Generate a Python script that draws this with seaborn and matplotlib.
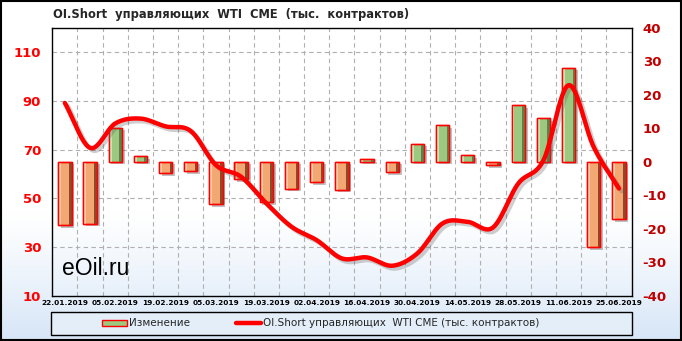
import numpy as np
import pandas as pd
import matplotlib
matplotlib.use("Agg")
import matplotlib.pyplot as plt
import matplotlib.patheffects as pe
from matplotlib.patches import Rectangle
from matplotlib.lines import Line2D
import seaborn as sns

dates = ['22.01.2019', '29.01.2019', '05.02.2019', '12.02.2019', '19.02.2019', '26.02.2019',
         '05.03.2019', '12.03.2019', '19.03.2019', '26.03.2019', '02.04.2019', '09.04.2019',
         '16.04.2019', '23.04.2019', '30.04.2019', '07.05.2019', '14.05.2019', '21.05.2019',
         '28.05.2019', '04.06.2019', '11.06.2019', '18.06.2019', '25.06.2019']
oi_short = [89.1, 70.7, 80.7, 82.7, 79.5, 77.6, 63.6, 58.8, 47.9, 38.3, 32.8, 25.3,
            25.7, 22.3, 27.4, 39.7, 40.3, 38.0, 56.0, 65.5, 96.4, 71.0, 54.0]
change = [-19.0, -18.5, 10.2, 1.6, -3.3, -2.8, -12.7, -5.3, -12.0, -8.0, -6.0, -8.3,
          0.8, -3.2, 5.4, 10.9, 1.9, -1.0, 16.9, 12.9, 28.1, -25.4, -17.2]
left_ticks = [10, 30, 50, 70, 90, 110]
right_ticks = [-40, -30, -20, -10, 0, 10, 20, 30, 40]
title = "OI.Short  управляющих  WTI  CME  (тыс.  контрактов)"
bar_label = "Изменение"
line_label = "OI.Short управляющих  WTI CME (тыс. контрактов)"

sns.set_theme(style="white")
plt.rcParams['font.family'] = ['DejaVu Sans']

W, H = 682, 341
fig = plt.figure(figsize=(W / 100, H / 100), dpi=100)

# background gradient
bg = fig.add_axes([0, 0, 1, 1], zorder=-10)
t = np.linspace(0, 1, 256)
g = np.clip((t - 0.62) / 0.38, 0, 1) ** 1.2
top = np.array([1.0, 1.0, 1.0])
bot = np.array([0.84, 0.90, 0.97])
grad = top[None, :] * (1 - g[:, None]) + bot[None, :] * g[:, None]
bg.imshow(grad[:, None, :], aspect='auto', extent=[0, 1, 0, 1], origin='upper')
bg.set_axis_off()

l, r = 52.3 / W, 631.5 / W
b, tp = (H - 295.7) / H, (H - 27.7) / H
ax2 = fig.add_axes([l, b, r - l, tp - b])  # bars, right scale
ax2.patch.set_visible(False)
ax = ax2.twinx()  # line, left scale (drawn on top)

df = pd.DataFrame({"date": dates, "change": change})
sns.barplot(data=df, x="date", y="change", ax=ax2, width=0.53, color="#F4B183", saturation=1,
            edgecolor="#FF0000", linewidth=1.0, zorder=3)
n = len(dates)
ax2.set_xlim(-0.5, n - 0.5)
ax2.set_ylim(-40, 40)
for p, v in zip(list(ax2.patches), change):
    pos = v >= 0
    p.set_facecolor("#9CC97F" if pos else "#F3A874")
    p.set_alpha(1)
    p.set_path_effects([pe.SimplePatchShadow(offset=(2, -2), shadow_rgbFace="#303030", alpha=0.3),
                        pe.Normal()])
    x0, w = p.get_x(), p.get_width()
    y0, h = p.get_y(), p.get_height()
    dark = "#5F8048" if pos else "#8E4A28"
    light = "#C9E5B5" if pos else "#FFCDA8"
    ax2.add_patch(Rectangle((x0 + w * 0.80, y0), w * 0.20, h, facecolor=dark, edgecolor='none', zorder=3.5))
    ax2.add_patch(Rectangle((x0 + w * 0.08, y0), w * 0.14, h, facecolor=light, edgecolor='none', zorder=3.5))
    ax2.add_patch(Rectangle((x0, y0), w, h, facecolor='none', edgecolor="#FF0000", linewidth=1.0, zorder=3.6))

# gridlines (under bars)
for v in left_ticks[1:]:
    f = (v - 10) / 110
    ax2.plot([0, 1], [f, f], transform=ax2.transAxes, color="#B0B0B0", lw=0.8,
             ls=(0, (4, 3)), zorder=1)
for i in range(n - 1):
    ax2.axvline(i + 0.5, color="#B0B0B0", lw=0.8, ls=(0, (4, 3)), zorder=1)

ax2.yaxis.tick_right()
ax2.yaxis.set_label_position('right')
ax2.set_yticks(right_ticks)
ax2.set_yticklabels([str(v) for v in right_ticks], color="#C00000", fontsize=9.5, fontweight='bold')
ax2.tick_params(axis='y', length=0, pad=8, left=False, labelleft=False, right=True, labelright=True)
ax2.set_xticks(range(0, n, 2))
ax2.set_xticklabels(dates[::2], fontsize=5.3, fontweight='bold', color='black')
ax2.tick_params(axis='x', length=0, pad=3)
ax2.set_xlabel("")
ax2.set_ylabel("")
for s in ax2.spines.values():
    s.set_color('black')
    s.set_linewidth(1.0)

ax.set_ylim(10, 120)
ax.yaxis.tick_left()
ax.set_yticks(left_ticks)
ax.set_yticklabels([str(v) for v in left_ticks], color="#FF0000", fontsize=9.5, fontweight='bold')
ax.tick_params(axis='y', length=0, pad=8, right=False, labelright=False, left=True, labelleft=True)
for s in ax.spines.values():
    s.set_visible(False)


def catmull(xs, ys, k=24):
    xs = np.asarray(xs, float); ys = np.asarray(ys, float)
    px = np.concatenate([[2 * xs[0] - xs[1]], xs, [2 * xs[-1] - xs[-2]]])
    py = np.concatenate([[2 * ys[0] - ys[1]], ys, [2 * ys[-1] - ys[-2]]])
    ox, oy = [], []
    for i in range(1, len(px) - 2):
        tt = np.linspace(0, 1, k, endpoint=False)
        for arr, out in ((px, ox), (py, oy)):
            p0, p1, p2, p3 = arr[i - 1], arr[i], arr[i + 1], arr[i + 2]
            out.extend(0.5 * (2 * p1 + (-p0 + p2) * tt + (2 * p0 - 5 * p1 + 4 * p2 - p3) * tt ** 2
                              + (-p0 + 3 * p1 - 3 * p2 + p3) * tt ** 3))
    ox.append(xs[-1]); oy.append(ys[-1])
    return np.array(ox), np.array(oy)


sx, sy = catmull(np.arange(n), oi_short)
sns.lineplot(x=sx, y=sy, ax=ax, color="#FF0000", lw=3.2, sort=False, zorder=5,
             path_effects=[pe.SimpleLineShadow(offset=(2, -2), shadow_color='#606060', alpha=0.3), pe.Normal()])
ax.set_xlim(-0.5, n - 0.5)
ax.set_ylabel("")

# title
fig.text(53 / W, 1 - 14.5 / H, title, fontsize=8.3, fontweight='bold', va='center', ha='left')

# watermark
ax.text(0.017, 0.1, "eOil.ru", transform=ax.transAxes, fontsize=16.5, family='Liberation Sans',
        color='black', va='center', ha='left')

# legend frame
fig.patches.append(Rectangle((51 / W, (H - 335) / H), (631.5 - 51) / W, 23 / H, transform=fig.transFigure,
                             facecolor="#E3EEF9", edgecolor='black', linewidth=1.0, zorder=1))
handles = [Rectangle((0, 0), 1, 1, facecolor="#9CC97F", edgecolor="#FF0000", linewidth=1.0),
           Line2D([0], [0], color="#FF0000", lw=3.2)]
leg = fig.legend(handles, [bar_label, line_label], loc='center left', ncol=2,
                 bbox_to_anchor=(97 / W, 1 - 323.5 / H), frameon=False, fontsize=7.5,
                 handlelength=2.4, handleheight=0.55, handletextpad=0.2, columnspacing=4.4, borderpad=0)

# outer border
fig.patches.append(Rectangle((0.001, 0.002), 0.997, 0.995, transform=fig.transFigure, facecolor='none',
                             edgecolor='black', linewidth=1.5, zorder=5))

fig.savefig("out.png", dpi=100)
